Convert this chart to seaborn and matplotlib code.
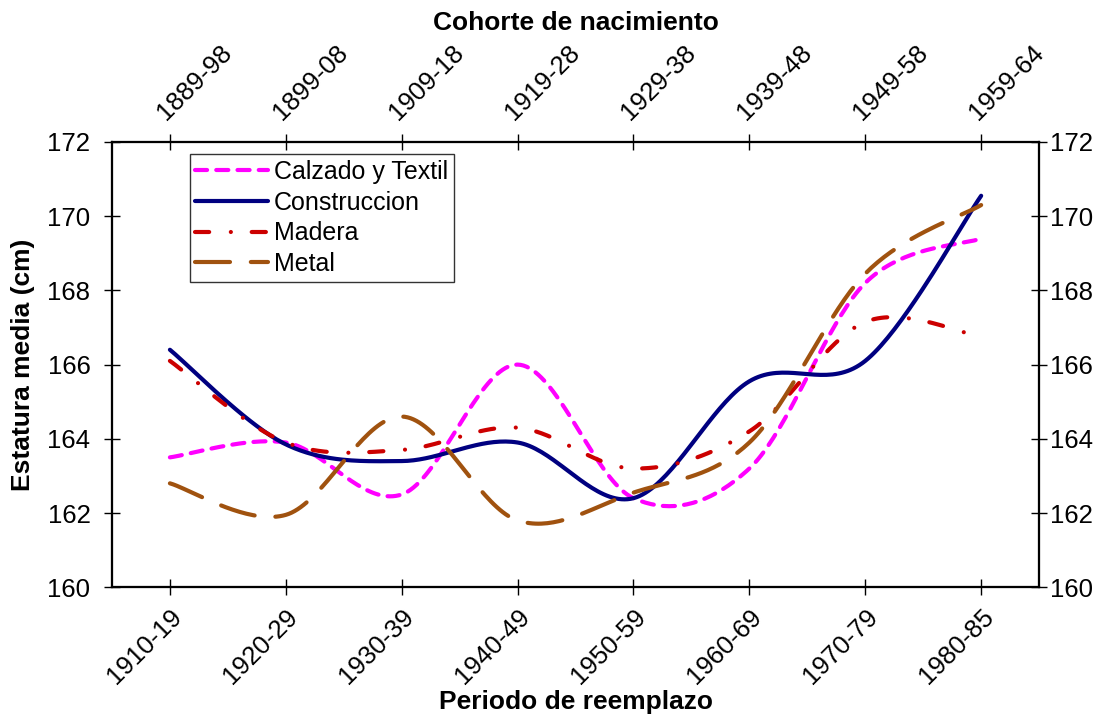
import matplotlib

matplotlib.use("Agg")
import matplotlib.pyplot as plt
import numpy as np
import pandas as pd
import seaborn as sns

PERIODS = ["1910-19", "1920-29", "1930-39", "1940-49", "1950-59", "1960-69", "1970-79", "1980-85"]
COHORTS = ["1889-98", "1899-08", "1909-18", "1919-28", "1929-38", "1939-48", "1949-58", "1959-64"]

calzado = [163.5, 163.9, 162.5, 166.0, 162.4, 163.2, 168.2, 169.4]
construccion = [166.4, 163.85, 163.4, 163.9, 162.4, 165.55, 166.1, 170.55]
madera = [166.1, 163.9, 163.7, 164.3, 163.2, 164.2, 167.15, 166.75]
metal = [162.8, 161.95, 164.6, 161.8, 162.55, 163.9, 168.45, 170.3]

SERIES = {
    "Calzado y Textil": calzado,
    "Construccion": construccion,
    "Madera": madera,
    "Metal": metal,
}
PALETTE = {
    "Calzado y Textil": "#FF00FF",
    "Construccion": "#000080",
    "Madera": "#CC0000",
    "Metal": "#A0520F",
}
DASHES = {
    "Calzado y Textil": (2.9, 2.2),
    "Construccion": "",
    "Madera": (3.4, 5.2, 0.01, 5.0),
    "Metal": (8.4, 5.0),
}
FONT = ["Liberation Sans", "DejaVu Sans"]
LINE_W = 3.0
TICK_SIZE = 18.5
LABEL_SIZE = 19


def smooth_curve(values: list[float], steps: int = 40) -> tuple[np.ndarray, np.ndarray]:
    """Excel-style smoothed line: Catmull-Rom segments drawn as cubic Bezier."""
    y = np.asarray(values, dtype=float)
    x = np.arange(len(y), dtype=float)
    xp = np.concatenate([[x[0]], x, [x[-1]]])
    yp = np.concatenate([[y[0]], y, [y[-1]]])
    t = np.linspace(0, 1, steps)[:, None]
    xs, ys = [], []
    for i in range(len(y) - 1):
        p0 = np.array([xp[i + 1], yp[i + 1]])
        p3 = np.array([xp[i + 2], yp[i + 2]])
        c1 = p0 + (p3 - np.array([xp[i], yp[i]])) / 6
        c2 = p3 - (np.array([xp[i + 3], yp[i + 3]]) - p0) / 6
        pts = (1 - t) ** 3 * p0 + 3 * (1 - t) ** 2 * t * c1 + 3 * (1 - t) * t**2 * c2 + t**3 * p3
        xs.append(pts[:, 0])
        ys.append(pts[:, 1])
    return np.concatenate(xs), np.concatenate(ys)


def build_frame() -> pd.DataFrame:
    parts = []
    for name, values in SERIES.items():
        xs, ys = smooth_curve(values)
        parts.append(pd.DataFrame({"x": xs, "y": ys, "serie": name}))
    return pd.concat(parts, ignore_index=True)


def style_spines(axis) -> None:
    for spine in axis.spines.values():
        spine.set_linewidth(1.5)
        spine.set_color("black")


def main() -> None:
    sns.set_theme(style="white")
    plt.rcParams["font.family"] = FONT
    plt.rcParams["font.size"] = 18
    plt.rcParams["text.color"] = "black"
    plt.rcParams["axes.labelcolor"] = "black"
    plt.rcParams["xtick.color"] = "black"
    plt.rcParams["ytick.color"] = "black"

    df = build_frame()
    fig = plt.figure(figsize=(11.13, 7.17), dpi=100)
    ax = fig.add_axes([0.1006, 0.181, 0.833, 0.621])

    sns.lineplot(
        data=df,
        x="x",
        y="y",
        hue="serie",
        style="serie",
        palette=PALETTE,
        dashes=DASHES,
        sort=False,
        estimator=None,
        linewidth=LINE_W,
        ax=ax,
    )
    for line in ax.get_lines():
        line.set_dash_capstyle("round")
        line.set_solid_capstyle("round")

    ax.set_xlim(-0.5, len(PERIODS) - 0.5)
    ax.set_ylim(160, 172)
    ax.set_xticks(range(len(PERIODS)))
    ax.set_xticklabels(PERIODS, rotation=45, ha="right", rotation_mode="anchor")
    ax.set_yticks(range(160, 173, 2))
    ax.tick_params(axis="both", direction="inout", length=11, width=1, labelsize=TICK_SIZE)
    ax.tick_params(axis="x", pad=7)
    ax.tick_params(axis="y", pad=10)
    style_spines(ax)

    ax.set_xlabel("Periodo de reemplazo", fontsize=LABEL_SIZE, fontweight="bold", labelpad=1)
    ax.set_ylabel("Estatura media (cm)", fontsize=LABEL_SIZE, fontweight="bold")
    ax.yaxis.set_label_coords(-0.083, 0.5)

    top = ax.twiny()
    top.set_xlim(ax.get_xlim())
    top.set_xticks(range(len(COHORTS)))
    top.set_xticklabels(COHORTS, rotation=45, ha="left", rotation_mode="anchor")
    top.tick_params(axis="x", direction="inout", length=11, width=1, labelsize=TICK_SIZE, pad=7)
    top.set_xlabel("Cohorte de nacimiento", fontsize=LABEL_SIZE, fontweight="bold", labelpad=8)

    right = ax.twinx()
    right.set_ylim(ax.get_ylim())
    right.set_yticks(range(160, 173, 2))
    right.tick_params(axis="y", direction="inout", length=11, width=1, labelsize=TICK_SIZE, pad=2)
    style_spines(top)
    style_spines(right)

    handles, labels = ax.get_legend_handles_labels()
    ax.get_legend().remove()
    leg = ax.legend(
        handles,
        labels,
        loc="upper left",
        bbox_to_anchor=(0.084, 0.972),
        fontsize=18,
        handlelength=2.9,
        handletextpad=0.25,
        labelspacing=0.27,
        borderpad=0.22,
        borderaxespad=0,
        frameon=True,
        fancybox=False,
    )
    leg.get_frame().set_edgecolor("black")
    leg.get_frame().set_linewidth(1.0)
    for handle in leg.get_lines():
        handle.set_linewidth(LINE_W)
        handle.set_dash_capstyle("round")

    fig.savefig("out.png", dpi=100)
    plt.close(fig)


if __name__ == "__main__":
    main()
